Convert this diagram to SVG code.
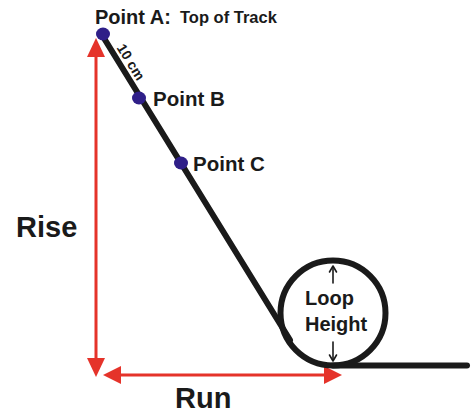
<svg xmlns="http://www.w3.org/2000/svg" width="474" height="414" viewBox="0 0 474 414">
<style>
text{font-family:"Liberation Sans",Arial,sans-serif;font-weight:bold;fill:#1a1a1a}
.track{stroke:#1a1a1a;stroke-width:6;fill:none;stroke-linecap:round}
.red{stroke:#e5332a;stroke-width:3;fill:none}
.redhead{fill:#e5332a}
.dot{fill:#2f1f88}
.small{stroke:#1a1a1a;stroke-width:1.6;fill:none;stroke-linecap:round;stroke-linejoin:round}
</style>
<rect width="474" height="414" fill="#ffffff"/>
<g id="connectors">
  <line class="red" x1="96" y1="54" x2="96" y2="360"/>
  <polygon class="redhead" points="96,38 87,57 105,57"/>
  <polygon class="redhead" points="96,377 87,358 105,358"/>
  <line class="red" x1="118" y1="375" x2="328" y2="375"/>
  <polygon class="redhead" points="103,375 121,366 121,384"/>
  <polygon class="redhead" points="342,375 324,366 324,384"/>
</g>
<g id="track">
  <line class="track" x1="102" y1="35" x2="290" y2="340"/>
  <circle class="track" cx="333" cy="313" r="52.5"/>
  <line class="track" x1="333" y1="365.5" x2="467" y2="365.5"/>
</g>
<g id="loop-height">
  <line class="small" x1="333" y1="283" x2="333" y2="267"/>
  <polyline class="small" points="329.5,272 333,266 336.5,272"/>
  <line class="small" x1="333" y1="342" x2="333" y2="360"/>
  <polyline class="small" points="329.5,355 333,361 336.5,355"/>
  <text x="305" y="305" font-size="20">Loop</text>
  <text x="305" y="331" font-size="20">Height</text>
</g>
<g id="pointA">
  <ellipse class="dot" cx="103" cy="34" rx="7" ry="6.5"/>
  <text x="95" y="24" font-size="20">Point A:</text>
  <text x="180" y="23" font-size="16.5">Top of Track</text>
</g>
<g id="distance">
  <text transform="translate(131,62) rotate(58.3)" x="0" y="5" font-size="14" text-anchor="middle">10 cm</text>
</g>
<g id="pointB">
  <ellipse class="dot" cx="139" cy="98" rx="7" ry="6.5"/>
  <text x="153" y="106" font-size="20.5">Point B</text>
</g>
<g id="pointC">
  <ellipse class="dot" cx="181" cy="163" rx="7" ry="6.5"/>
  <text x="193" y="171" font-size="20.5">Point C</text>
</g>
<g id="rise">
  <text x="16" y="237" font-size="29">Rise</text>
</g>
<g id="run">
  <text x="175" y="408" font-size="29">Run</text>
</g>
</svg>
